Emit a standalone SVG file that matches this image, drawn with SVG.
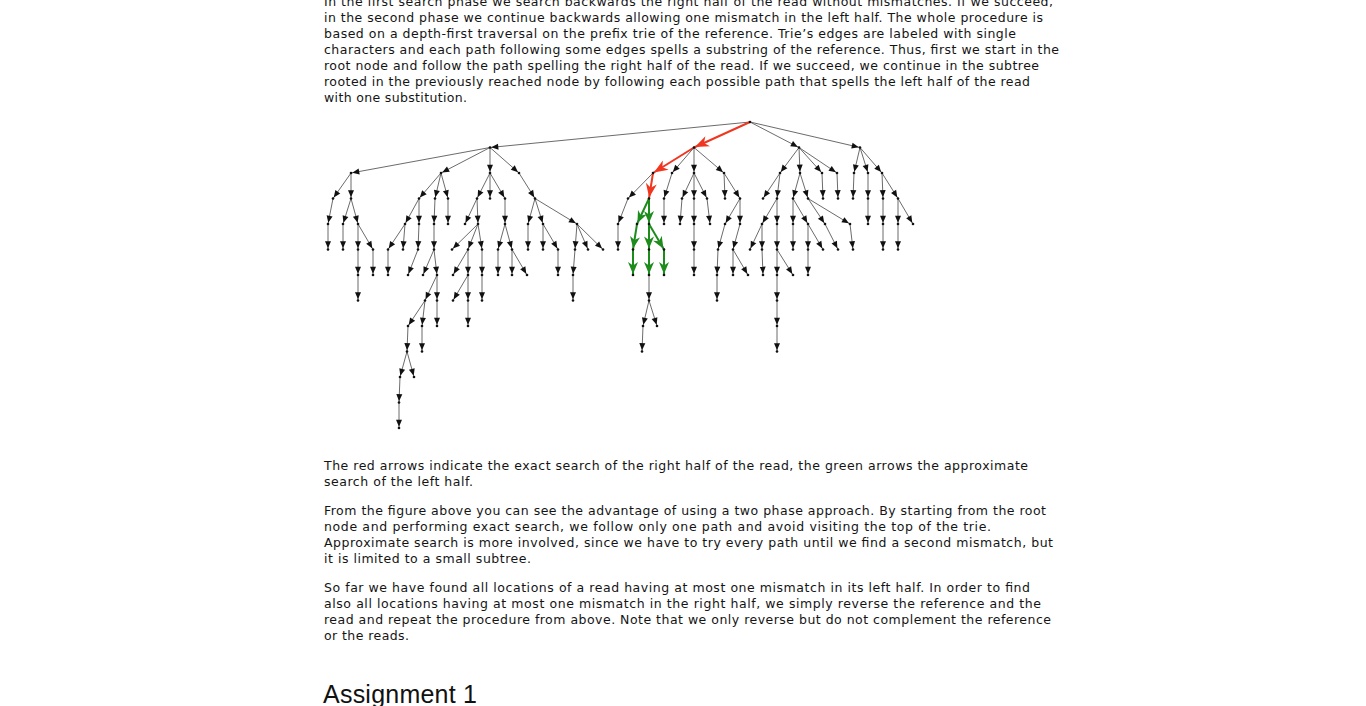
<svg xmlns="http://www.w3.org/2000/svg" width="1366" height="706" viewBox="0 0 1366 706">
<style>
.e line{stroke:#5a5a5a;stroke-width:0.9;marker-end:url(#ah)}
line.r{stroke:#f0361f;stroke-width:2;marker-end:url(#ar)}
line.g{stroke:#1d8c1d;stroke-width:2;marker-end:url(#ag)}
.node circle{fill:#111}
.t{font-family:"DejaVu Sans",Verdana,sans-serif;font-size:12.5px;fill:#141414}
.h{font-family:"Liberation Sans",Arial,sans-serif;font-size:25px;fill:#111}
</style>
<defs>
<marker id="ah" viewBox="0 0 7 6" refX="8.3" refY="3" markerWidth="7" markerHeight="6" markerUnits="userSpaceOnUse" orient="auto" style="overflow:visible"><path d="M0,0L7,3L0,6z" fill="#111"/></marker>
<marker id="ar" viewBox="0 0 14 11" refX="15" refY="5.5" markerWidth="14" markerHeight="11" markerUnits="userSpaceOnUse" orient="auto" style="overflow:visible"><path d="M0,0L14,5.5L0,11L4,5.5z" fill="#f0361f"/></marker>
<marker id="ag" viewBox="0 0 12 10" refX="13" refY="5" markerWidth="12" markerHeight="10" markerUnits="userSpaceOnUse" orient="auto" style="overflow:visible"><path d="M0,0L12,5L0,10L3.5,5z" fill="#1d8c1d"/></marker>
</defs>
<rect width="1366" height="706" fill="#fff"/>

<g class="t">
<text x="324" y="6" textLength="729" lengthAdjust="spacing">In the first search phase we search backwards the right half of the read without mismatches. If we succeed,</text>
<text x="324" y="22" textLength="719" lengthAdjust="spacing">in the second phase we continue backwards allowing one mismatch in the left half. The whole procedure is</text>
<text x="324" y="38" textLength="692" lengthAdjust="spacing">based on a depth-first traversal on the prefix trie of the reference. Trie’s edges are labeled with single</text>
<text x="324" y="54" textLength="735" lengthAdjust="spacing">characters and each path following some edges spells a substring of the reference. Thus, first we start in the</text>
<text x="324" y="70" textLength="715" lengthAdjust="spacing">root node and follow the path spelling the right half of the read. If we succeed, we continue in the subtree</text>
<text x="324" y="86" textLength="706" lengthAdjust="spacing">rooted in the previously reached node by following each possible path that spells the left half of the read</text>
<text x="324" y="102" textLength="143" lengthAdjust="spacing">with one substitution.</text>
<text x="324" y="470" textLength="704" lengthAdjust="spacing">The red arrows indicate the exact search of the right half of the read, the green arrows the approximate</text>
<text x="324" y="486" textLength="149" lengthAdjust="spacing">search of the left half.</text>
<text x="324" y="515" textLength="722" lengthAdjust="spacing">From the figure above you can see the advantage of using a two phase approach. By starting from the root</text>
<text x="324" y="531" textLength="667" lengthAdjust="spacing">node and performing exact search, we follow only one path and avoid visiting the top of the trie.</text>
<text x="324" y="547" textLength="729" lengthAdjust="spacing">Approximate search is more involved, since we have to try every path until we find a second mismatch, but</text>
<text x="324" y="563" textLength="207" lengthAdjust="spacing">it is limited to a small subtree.</text>
<text x="324" y="592" textLength="706" lengthAdjust="spacing">So far we have found all locations of a read having at most one mismatch in its left half. In order to find</text>
<text x="324" y="608" textLength="717" lengthAdjust="spacing">also all locations having at most one mismatch in the right half, we simply reverse the reference and the</text>
<text x="324" y="624" textLength="727" lengthAdjust="spacing">read and repeat the procedure from above. Note that we only reverse but do not complement the reference</text>
<text x="324" y="640" textLength="85" lengthAdjust="spacing">or the reads.</text>
</g>
<text class="h" x="323" y="703" textLength="154" lengthAdjust="spacing">Assignment 1</text>

<g id="connectors" class="e">
<line x1="750" y1="122" x2="490" y2="147.5"/>
<line class="r" x1="750" y1="122" x2="694" y2="147.5"/>
<line x1="750" y1="122" x2="799" y2="147.5"/>
<line x1="750" y1="122" x2="860" y2="147.5"/>
<line x1="490" y1="147.5" x2="351" y2="173"/>
<line x1="490" y1="147.5" x2="441" y2="173"/>
<line x1="490" y1="147.5" x2="490" y2="173"/>
<line x1="490" y1="147.5" x2="519" y2="173"/>
<line class="r" x1="694" y1="147.5" x2="653" y2="173"/>
<line x1="694" y1="147.5" x2="672" y2="173"/>
<line x1="694" y1="147.5" x2="694" y2="173"/>
<line x1="694" y1="147.5" x2="724" y2="173"/>
<line x1="799" y1="147.5" x2="780" y2="173"/>
<line x1="799" y1="147.5" x2="800" y2="173"/>
<line x1="799" y1="147.5" x2="822" y2="173"/>
<line x1="799" y1="147.5" x2="837" y2="173"/>
<line x1="860" y1="147.5" x2="854" y2="173"/>
<line x1="860" y1="147.5" x2="868" y2="173"/>
<line x1="860" y1="147.5" x2="882" y2="173"/>
<line x1="351" y1="173" x2="333" y2="198.5"/>
<line x1="351" y1="173" x2="351" y2="198.5"/>
<line x1="441" y1="173" x2="419" y2="198.5"/>
<line x1="441" y1="173" x2="435" y2="198.5"/>
<line x1="441" y1="173" x2="448" y2="198.5"/>
<line x1="490" y1="173" x2="477" y2="198.5"/>
<line x1="490" y1="173" x2="490" y2="198.5"/>
<line x1="490" y1="173" x2="505" y2="198.5"/>
<line x1="519" y1="173" x2="535" y2="198.5"/>
<line x1="653" y1="173" x2="628" y2="198.5"/>
<line class="r" x1="653" y1="173" x2="649" y2="198.5"/>
<line x1="672" y1="173" x2="664" y2="198.5"/>
<line x1="694" y1="173" x2="682" y2="198.5"/>
<line x1="694" y1="173" x2="694" y2="198.5"/>
<line x1="694" y1="173" x2="707" y2="198.5"/>
<line x1="724" y1="173" x2="725" y2="198.5"/>
<line x1="724" y1="173" x2="740" y2="198.5"/>
<line x1="780" y1="173" x2="763" y2="198.5"/>
<line x1="780" y1="173" x2="777" y2="198.5"/>
<line x1="800" y1="173" x2="793" y2="198.5"/>
<line x1="800" y1="173" x2="808" y2="198.5"/>
<line x1="822" y1="173" x2="823" y2="198.5"/>
<line x1="837" y1="173" x2="838" y2="198.5"/>
<line x1="854" y1="173" x2="853" y2="198.5"/>
<line x1="868" y1="173" x2="868" y2="198.5"/>
<line x1="882" y1="173" x2="883" y2="198.5"/>
<line x1="882" y1="173" x2="898" y2="198.5"/>
<line x1="333" y1="198.5" x2="328" y2="224"/>
<line x1="351" y1="198.5" x2="343" y2="224"/>
<line x1="351" y1="198.5" x2="358" y2="224"/>
<line x1="419" y1="198.5" x2="405" y2="224"/>
<line x1="419" y1="198.5" x2="419" y2="224"/>
<line x1="435" y1="198.5" x2="434" y2="224"/>
<line x1="448" y1="198.5" x2="448" y2="224"/>
<line x1="477" y1="198.5" x2="465" y2="224"/>
<line x1="477" y1="198.5" x2="478" y2="224"/>
<line x1="505" y1="198.5" x2="505" y2="224"/>
<line x1="535" y1="198.5" x2="528" y2="224"/>
<line x1="535" y1="198.5" x2="543" y2="224"/>
<line x1="535" y1="198.5" x2="577" y2="224"/>
<line x1="628" y1="198.5" x2="618" y2="224"/>
<line class="g" x1="649" y1="198.5" x2="637" y2="224"/>
<line class="g" x1="649" y1="198.5" x2="649" y2="224"/>
<line x1="664" y1="198.5" x2="664" y2="224"/>
<line x1="682" y1="198.5" x2="680" y2="224"/>
<line x1="694" y1="198.5" x2="694" y2="224"/>
<line x1="707" y1="198.5" x2="710" y2="224"/>
<line x1="740" y1="198.5" x2="725" y2="224"/>
<line x1="740" y1="198.5" x2="740" y2="224"/>
<line x1="777" y1="198.5" x2="762" y2="224"/>
<line x1="777" y1="198.5" x2="777" y2="224"/>
<line x1="793" y1="198.5" x2="793" y2="224"/>
<line x1="793" y1="198.5" x2="808" y2="224"/>
<line x1="808" y1="198.5" x2="825" y2="224"/>
<line x1="808" y1="198.5" x2="850" y2="224"/>
<line x1="868" y1="198.5" x2="868" y2="224"/>
<line x1="883" y1="198.5" x2="883" y2="224"/>
<line x1="898" y1="198.5" x2="898" y2="224"/>
<line x1="898" y1="198.5" x2="913" y2="224"/>
<line x1="328" y1="224" x2="328" y2="249.5"/>
<line x1="343" y1="224" x2="343" y2="249.5"/>
<line x1="358" y1="224" x2="358" y2="249.5"/>
<line x1="358" y1="224" x2="373" y2="249.5"/>
<line x1="405" y1="224" x2="388" y2="249.5"/>
<line x1="405" y1="224" x2="403" y2="249.5"/>
<line x1="419" y1="224" x2="418" y2="249.5"/>
<line x1="434" y1="224" x2="434" y2="249.5"/>
<line x1="478" y1="224" x2="452" y2="249.5"/>
<line x1="478" y1="224" x2="468" y2="249.5"/>
<line x1="478" y1="224" x2="482" y2="249.5"/>
<line x1="505" y1="224" x2="498" y2="249.5"/>
<line x1="505" y1="224" x2="512" y2="249.5"/>
<line x1="528" y1="224" x2="528" y2="249.5"/>
<line x1="543" y1="224" x2="543" y2="249.5"/>
<line x1="543" y1="224" x2="558" y2="249.5"/>
<line x1="577" y1="224" x2="575" y2="249.5"/>
<line x1="577" y1="224" x2="588" y2="249.5"/>
<line x1="577" y1="224" x2="603" y2="249.5"/>
<line x1="618" y1="224" x2="618" y2="249.5"/>
<line class="g" x1="637" y1="224" x2="633" y2="249.5"/>
<line class="g" x1="649" y1="224" x2="649" y2="249.5"/>
<line class="g" x1="649" y1="224" x2="664" y2="249.5"/>
<line x1="694" y1="224" x2="694" y2="249.5"/>
<line x1="725" y1="224" x2="718" y2="249.5"/>
<line x1="740" y1="224" x2="733" y2="249.5"/>
<line x1="762" y1="224" x2="750" y2="249.5"/>
<line x1="762" y1="224" x2="762" y2="249.5"/>
<line x1="777" y1="224" x2="777" y2="249.5"/>
<line x1="793" y1="224" x2="793" y2="249.5"/>
<line x1="808" y1="224" x2="808" y2="249.5"/>
<line x1="808" y1="224" x2="823" y2="249.5"/>
<line x1="825" y1="224" x2="838" y2="249.5"/>
<line x1="850" y1="224" x2="853" y2="249.5"/>
<line x1="883" y1="224" x2="883" y2="249.5"/>
<line x1="898" y1="224" x2="898" y2="249.5"/>
<line x1="358" y1="249.5" x2="358" y2="275"/>
<line x1="373" y1="249.5" x2="373" y2="275"/>
<line x1="388" y1="249.5" x2="388" y2="275"/>
<line x1="418" y1="249.5" x2="408" y2="275"/>
<line x1="434" y1="249.5" x2="423" y2="275"/>
<line x1="434" y1="249.5" x2="437" y2="275"/>
<line x1="468" y1="249.5" x2="453" y2="275"/>
<line x1="468" y1="249.5" x2="468" y2="275"/>
<line x1="482" y1="249.5" x2="482" y2="275"/>
<line x1="498" y1="249.5" x2="498" y2="275"/>
<line x1="512" y1="249.5" x2="512" y2="275"/>
<line x1="512" y1="249.5" x2="527" y2="275"/>
<line x1="558" y1="249.5" x2="558" y2="275"/>
<line x1="575" y1="249.5" x2="573" y2="275"/>
<line class="g" x1="633" y1="249.5" x2="633" y2="275"/>
<line class="g" x1="649" y1="249.5" x2="649" y2="275"/>
<line class="g" x1="664" y1="249.5" x2="664" y2="275"/>
<line x1="694" y1="249.5" x2="694" y2="275"/>
<line x1="718" y1="249.5" x2="717" y2="275"/>
<line x1="733" y1="249.5" x2="733" y2="275"/>
<line x1="733" y1="249.5" x2="748" y2="275"/>
<line x1="762" y1="249.5" x2="763" y2="275"/>
<line x1="777" y1="249.5" x2="777" y2="275"/>
<line x1="777" y1="249.5" x2="793" y2="275"/>
<line x1="808" y1="249.5" x2="808" y2="275"/>
<line x1="358" y1="275" x2="358" y2="300.5"/>
<line x1="437" y1="275" x2="425" y2="300.5"/>
<line x1="437" y1="275" x2="437" y2="300.5"/>
<line x1="468" y1="275" x2="453" y2="300.5"/>
<line x1="468" y1="275" x2="468" y2="300.5"/>
<line x1="482" y1="275" x2="482" y2="300.5"/>
<line x1="573" y1="275" x2="573" y2="300.5"/>
<line x1="649" y1="275" x2="649" y2="300.5"/>
<line x1="717" y1="275" x2="717" y2="300.5"/>
<line x1="777" y1="275" x2="777" y2="300.5"/>
<line x1="425" y1="300.5" x2="408" y2="326"/>
<line x1="425" y1="300.5" x2="422" y2="326"/>
<line x1="437" y1="300.5" x2="437" y2="326"/>
<line x1="468" y1="300.5" x2="468" y2="326"/>
<line x1="649" y1="300.5" x2="643" y2="326"/>
<line x1="649" y1="300.5" x2="657" y2="326"/>
<line x1="777" y1="300.5" x2="777" y2="326"/>
<line x1="408" y1="326" x2="407" y2="351.5"/>
<line x1="422" y1="326" x2="422" y2="351.5"/>
<line x1="643" y1="326" x2="642" y2="351.5"/>
<line x1="777" y1="326" x2="777" y2="351.5"/>
<line x1="407" y1="351.5" x2="400" y2="377"/>
<line x1="407" y1="351.5" x2="414" y2="377"/>
<line x1="400" y1="377" x2="399" y2="402.5"/>
<line x1="399" y1="402.5" x2="399" y2="428"/>
</g>

<g id="nodes" class="node">
<g id="n0-750"><circle cx="750" cy="122" r="1.3"/></g>
<g id="n1-490"><circle cx="490" cy="147.5" r="1.3"/></g>
<g id="n1-694"><circle cx="694" cy="147.5" r="1.3"/></g>
<g id="n1-799"><circle cx="799" cy="147.5" r="1.3"/></g>
<g id="n1-860"><circle cx="860" cy="147.5" r="1.3"/></g>
<g id="n2-351"><circle cx="351" cy="173" r="1.3"/></g>
<g id="n2-441"><circle cx="441" cy="173" r="1.3"/></g>
<g id="n2-490"><circle cx="490" cy="173" r="1.3"/></g>
<g id="n2-519"><circle cx="519" cy="173" r="1.3"/></g>
<g id="n2-653"><circle cx="653" cy="173" r="1.3"/></g>
<g id="n2-672"><circle cx="672" cy="173" r="1.3"/></g>
<g id="n2-694"><circle cx="694" cy="173" r="1.3"/></g>
<g id="n2-724"><circle cx="724" cy="173" r="1.3"/></g>
<g id="n2-780"><circle cx="780" cy="173" r="1.3"/></g>
<g id="n2-800"><circle cx="800" cy="173" r="1.3"/></g>
<g id="n2-822"><circle cx="822" cy="173" r="1.3"/></g>
<g id="n2-837"><circle cx="837" cy="173" r="1.3"/></g>
<g id="n2-854"><circle cx="854" cy="173" r="1.3"/></g>
<g id="n2-868"><circle cx="868" cy="173" r="1.3"/></g>
<g id="n2-882"><circle cx="882" cy="173" r="1.3"/></g>
<g id="n3-333"><circle cx="333" cy="198.5" r="1.3"/></g>
<g id="n3-351"><circle cx="351" cy="198.5" r="1.3"/></g>
<g id="n3-419"><circle cx="419" cy="198.5" r="1.3"/></g>
<g id="n3-435"><circle cx="435" cy="198.5" r="1.3"/></g>
<g id="n3-448"><circle cx="448" cy="198.5" r="1.3"/></g>
<g id="n3-477"><circle cx="477" cy="198.5" r="1.3"/></g>
<g id="n3-490"><circle cx="490" cy="198.5" r="1.3"/></g>
<g id="n3-505"><circle cx="505" cy="198.5" r="1.3"/></g>
<g id="n3-535"><circle cx="535" cy="198.5" r="1.3"/></g>
<g id="n3-628"><circle cx="628" cy="198.5" r="1.3"/></g>
<g id="n3-649"><circle cx="649" cy="198.5" r="1.3"/></g>
<g id="n3-664"><circle cx="664" cy="198.5" r="1.3"/></g>
<g id="n3-682"><circle cx="682" cy="198.5" r="1.3"/></g>
<g id="n3-694"><circle cx="694" cy="198.5" r="1.3"/></g>
<g id="n3-707"><circle cx="707" cy="198.5" r="1.3"/></g>
<g id="n3-725"><circle cx="725" cy="198.5" r="1.3"/></g>
<g id="n3-740"><circle cx="740" cy="198.5" r="1.3"/></g>
<g id="n3-763"><circle cx="763" cy="198.5" r="1.3"/></g>
<g id="n3-777"><circle cx="777" cy="198.5" r="1.3"/></g>
<g id="n3-793"><circle cx="793" cy="198.5" r="1.3"/></g>
<g id="n3-808"><circle cx="808" cy="198.5" r="1.3"/></g>
<g id="n3-823"><circle cx="823" cy="198.5" r="1.3"/></g>
<g id="n3-838"><circle cx="838" cy="198.5" r="1.3"/></g>
<g id="n3-853"><circle cx="853" cy="198.5" r="1.3"/></g>
<g id="n3-868"><circle cx="868" cy="198.5" r="1.3"/></g>
<g id="n3-883"><circle cx="883" cy="198.5" r="1.3"/></g>
<g id="n3-898"><circle cx="898" cy="198.5" r="1.3"/></g>
<g id="n4-328"><circle cx="328" cy="224" r="1.3"/></g>
<g id="n4-343"><circle cx="343" cy="224" r="1.3"/></g>
<g id="n4-358"><circle cx="358" cy="224" r="1.3"/></g>
<g id="n4-405"><circle cx="405" cy="224" r="1.3"/></g>
<g id="n4-419"><circle cx="419" cy="224" r="1.3"/></g>
<g id="n4-434"><circle cx="434" cy="224" r="1.3"/></g>
<g id="n4-448"><circle cx="448" cy="224" r="1.3"/></g>
<g id="n4-465"><circle cx="465" cy="224" r="1.3"/></g>
<g id="n4-478"><circle cx="478" cy="224" r="1.3"/></g>
<g id="n4-505"><circle cx="505" cy="224" r="1.3"/></g>
<g id="n4-528"><circle cx="528" cy="224" r="1.3"/></g>
<g id="n4-543"><circle cx="543" cy="224" r="1.3"/></g>
<g id="n4-577"><circle cx="577" cy="224" r="1.3"/></g>
<g id="n4-618"><circle cx="618" cy="224" r="1.3"/></g>
<g id="n4-637"><circle cx="637" cy="224" r="1.3"/></g>
<g id="n4-649"><circle cx="649" cy="224" r="1.3"/></g>
<g id="n4-664"><circle cx="664" cy="224" r="1.3"/></g>
<g id="n4-680"><circle cx="680" cy="224" r="1.3"/></g>
<g id="n4-694"><circle cx="694" cy="224" r="1.3"/></g>
<g id="n4-710"><circle cx="710" cy="224" r="1.3"/></g>
<g id="n4-725"><circle cx="725" cy="224" r="1.3"/></g>
<g id="n4-740"><circle cx="740" cy="224" r="1.3"/></g>
<g id="n4-762"><circle cx="762" cy="224" r="1.3"/></g>
<g id="n4-777"><circle cx="777" cy="224" r="1.3"/></g>
<g id="n4-793"><circle cx="793" cy="224" r="1.3"/></g>
<g id="n4-808"><circle cx="808" cy="224" r="1.3"/></g>
<g id="n4-825"><circle cx="825" cy="224" r="1.3"/></g>
<g id="n4-850"><circle cx="850" cy="224" r="1.3"/></g>
<g id="n4-868"><circle cx="868" cy="224" r="1.3"/></g>
<g id="n4-883"><circle cx="883" cy="224" r="1.3"/></g>
<g id="n4-898"><circle cx="898" cy="224" r="1.3"/></g>
<g id="n4-913"><circle cx="913" cy="224" r="1.3"/></g>
<g id="n5-328"><circle cx="328" cy="249.5" r="1.3"/></g>
<g id="n5-343"><circle cx="343" cy="249.5" r="1.3"/></g>
<g id="n5-358"><circle cx="358" cy="249.5" r="1.3"/></g>
<g id="n5-373"><circle cx="373" cy="249.5" r="1.3"/></g>
<g id="n5-388"><circle cx="388" cy="249.5" r="1.3"/></g>
<g id="n5-403"><circle cx="403" cy="249.5" r="1.3"/></g>
<g id="n5-418"><circle cx="418" cy="249.5" r="1.3"/></g>
<g id="n5-434"><circle cx="434" cy="249.5" r="1.3"/></g>
<g id="n5-452"><circle cx="452" cy="249.5" r="1.3"/></g>
<g id="n5-468"><circle cx="468" cy="249.5" r="1.3"/></g>
<g id="n5-482"><circle cx="482" cy="249.5" r="1.3"/></g>
<g id="n5-498"><circle cx="498" cy="249.5" r="1.3"/></g>
<g id="n5-512"><circle cx="512" cy="249.5" r="1.3"/></g>
<g id="n5-528"><circle cx="528" cy="249.5" r="1.3"/></g>
<g id="n5-543"><circle cx="543" cy="249.5" r="1.3"/></g>
<g id="n5-558"><circle cx="558" cy="249.5" r="1.3"/></g>
<g id="n5-575"><circle cx="575" cy="249.5" r="1.3"/></g>
<g id="n5-588"><circle cx="588" cy="249.5" r="1.3"/></g>
<g id="n5-603"><circle cx="603" cy="249.5" r="1.3"/></g>
<g id="n5-618"><circle cx="618" cy="249.5" r="1.3"/></g>
<g id="n5-633"><circle cx="633" cy="249.5" r="1.3"/></g>
<g id="n5-649"><circle cx="649" cy="249.5" r="1.3"/></g>
<g id="n5-664"><circle cx="664" cy="249.5" r="1.3"/></g>
<g id="n5-694"><circle cx="694" cy="249.5" r="1.3"/></g>
<g id="n5-718"><circle cx="718" cy="249.5" r="1.3"/></g>
<g id="n5-733"><circle cx="733" cy="249.5" r="1.3"/></g>
<g id="n5-750"><circle cx="750" cy="249.5" r="1.3"/></g>
<g id="n5-762"><circle cx="762" cy="249.5" r="1.3"/></g>
<g id="n5-777"><circle cx="777" cy="249.5" r="1.3"/></g>
<g id="n5-793"><circle cx="793" cy="249.5" r="1.3"/></g>
<g id="n5-808"><circle cx="808" cy="249.5" r="1.3"/></g>
<g id="n5-823"><circle cx="823" cy="249.5" r="1.3"/></g>
<g id="n5-838"><circle cx="838" cy="249.5" r="1.3"/></g>
<g id="n5-853"><circle cx="853" cy="249.5" r="1.3"/></g>
<g id="n5-883"><circle cx="883" cy="249.5" r="1.3"/></g>
<g id="n5-898"><circle cx="898" cy="249.5" r="1.3"/></g>
<g id="n6-358"><circle cx="358" cy="275" r="1.3"/></g>
<g id="n6-373"><circle cx="373" cy="275" r="1.3"/></g>
<g id="n6-388"><circle cx="388" cy="275" r="1.3"/></g>
<g id="n6-408"><circle cx="408" cy="275" r="1.3"/></g>
<g id="n6-423"><circle cx="423" cy="275" r="1.3"/></g>
<g id="n6-437"><circle cx="437" cy="275" r="1.3"/></g>
<g id="n6-453"><circle cx="453" cy="275" r="1.3"/></g>
<g id="n6-468"><circle cx="468" cy="275" r="1.3"/></g>
<g id="n6-482"><circle cx="482" cy="275" r="1.3"/></g>
<g id="n6-498"><circle cx="498" cy="275" r="1.3"/></g>
<g id="n6-512"><circle cx="512" cy="275" r="1.3"/></g>
<g id="n6-527"><circle cx="527" cy="275" r="1.3"/></g>
<g id="n6-558"><circle cx="558" cy="275" r="1.3"/></g>
<g id="n6-573"><circle cx="573" cy="275" r="1.3"/></g>
<g id="n6-633"><circle cx="633" cy="275" r="1.3"/></g>
<g id="n6-649"><circle cx="649" cy="275" r="1.3"/></g>
<g id="n6-664"><circle cx="664" cy="275" r="1.3"/></g>
<g id="n6-694"><circle cx="694" cy="275" r="1.3"/></g>
<g id="n6-717"><circle cx="717" cy="275" r="1.3"/></g>
<g id="n6-733"><circle cx="733" cy="275" r="1.3"/></g>
<g id="n6-748"><circle cx="748" cy="275" r="1.3"/></g>
<g id="n6-763"><circle cx="763" cy="275" r="1.3"/></g>
<g id="n6-777"><circle cx="777" cy="275" r="1.3"/></g>
<g id="n6-793"><circle cx="793" cy="275" r="1.3"/></g>
<g id="n6-808"><circle cx="808" cy="275" r="1.3"/></g>
<g id="n7-358"><circle cx="358" cy="300.5" r="1.3"/></g>
<g id="n7-425"><circle cx="425" cy="300.5" r="1.3"/></g>
<g id="n7-437"><circle cx="437" cy="300.5" r="1.3"/></g>
<g id="n7-453"><circle cx="453" cy="300.5" r="1.3"/></g>
<g id="n7-468"><circle cx="468" cy="300.5" r="1.3"/></g>
<g id="n7-482"><circle cx="482" cy="300.5" r="1.3"/></g>
<g id="n7-573"><circle cx="573" cy="300.5" r="1.3"/></g>
<g id="n7-649"><circle cx="649" cy="300.5" r="1.3"/></g>
<g id="n7-717"><circle cx="717" cy="300.5" r="1.3"/></g>
<g id="n7-777"><circle cx="777" cy="300.5" r="1.3"/></g>
<g id="n8-408"><circle cx="408" cy="326" r="1.3"/></g>
<g id="n8-422"><circle cx="422" cy="326" r="1.3"/></g>
<g id="n8-437"><circle cx="437" cy="326" r="1.3"/></g>
<g id="n8-468"><circle cx="468" cy="326" r="1.3"/></g>
<g id="n8-643"><circle cx="643" cy="326" r="1.3"/></g>
<g id="n8-657"><circle cx="657" cy="326" r="1.3"/></g>
<g id="n8-777"><circle cx="777" cy="326" r="1.3"/></g>
<g id="n9-407"><circle cx="407" cy="351.5" r="1.3"/></g>
<g id="n9-422"><circle cx="422" cy="351.5" r="1.3"/></g>
<g id="n9-642"><circle cx="642" cy="351.5" r="1.3"/></g>
<g id="n9-777"><circle cx="777" cy="351.5" r="1.3"/></g>
<g id="n10-400"><circle cx="400" cy="377" r="1.3"/></g>
<g id="n10-414"><circle cx="414" cy="377" r="1.3"/></g>
<g id="n11-399"><circle cx="399" cy="402.5" r="1.3"/></g>
<g id="n12-399"><circle cx="399" cy="428" r="1.3"/></g>
</g>
</svg>
